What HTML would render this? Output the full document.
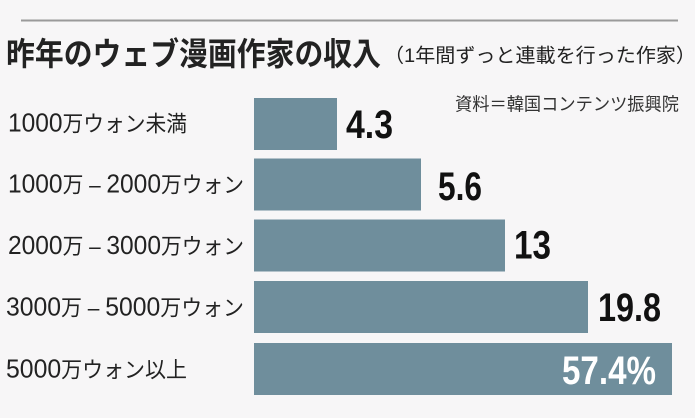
<!DOCTYPE html>
<html><head><meta charset="utf-8">
<style>
html,body{margin:0;padding:0;background:#f7f6f7;}
svg{display:block;}
.jp{font-family:"Liberation Sans","Noto Sans CJK JP",sans-serif;}
</style></head>
<body>
<svg width="695" height="418" viewBox="0 0 695 418" xmlns="http://www.w3.org/2000/svg">
<rect width="695" height="418" fill="#f7f6f7"/>
<line x1="21" y1="20.5" x2="678" y2="20.5" stroke="#9a9a9a" stroke-width="2"/>
<text class="jp" x="6" y="65" font-size="32" font-weight="bold" fill="#222" textLength="375" lengthAdjust="spacingAndGlyphs">昨年のウェブ漫画作家の収入</text>
<text class="jp" x="384" y="62" font-size="19.5" fill="#222" textLength="312" lengthAdjust="spacingAndGlyphs">（1年間ずっと連載を行った作家）</text>
<text class="jp" x="455" y="110.5" font-size="18" fill="#333" textLength="224" lengthAdjust="spacingAndGlyphs">資料＝韓国コンテンツ振興院</text>

<g fill="#6f8e9c">
<rect x="254" y="98" width="83" height="52"/>
<rect x="254" y="158.5" width="167" height="52"/>
<rect x="254" y="219.5" width="251" height="52"/>
<rect x="254" y="281" width="334" height="52"/>
<rect x="254" y="343" width="418" height="52"/>
</g>

<g class="jp" fill="#222" font-size="22">
<text x="8" y="131.5" textLength="179" lengthAdjust="spacingAndGlyphs"><tspan font-size="26">1000</tspan>万ウォン未満</text>
<text x="8" y="192.5" textLength="236" lengthAdjust="spacingAndGlyphs"><tspan font-size="26">1000</tspan>万 – <tspan font-size="26">2000</tspan>万ウォン</text>
<text x="8" y="254" textLength="236" lengthAdjust="spacingAndGlyphs"><tspan font-size="26">2000</tspan>万 – <tspan font-size="26">3000</tspan>万ウォン</text>
<text x="6" y="315.5" textLength="238" lengthAdjust="spacingAndGlyphs"><tspan font-size="26">3000</tspan>万 – <tspan font-size="26">5000</tspan>万ウォン</text>
<text x="6" y="377.5" textLength="181" lengthAdjust="spacingAndGlyphs"><tspan font-size="26">5000</tspan>万ウォン以上</text>
</g>

<g font-family="'Liberation Sans',sans-serif" font-weight="bold" font-size="40">
<text x="346" y="138" fill="#111" textLength="47" lengthAdjust="spacingAndGlyphs">4.3</text>
<text x="438" y="200" fill="#111" textLength="44" lengthAdjust="spacingAndGlyphs">5.6</text>
<text x="514" y="258.5" fill="#111" textLength="37" lengthAdjust="spacingAndGlyphs">13</text>
<text x="598" y="321" fill="#111" textLength="63" lengthAdjust="spacingAndGlyphs">19.8</text>
<text x="562" y="384" fill="#ffffff" textLength="94" lengthAdjust="spacingAndGlyphs">57.4%</text>
</g>
</svg>
</body></html>
